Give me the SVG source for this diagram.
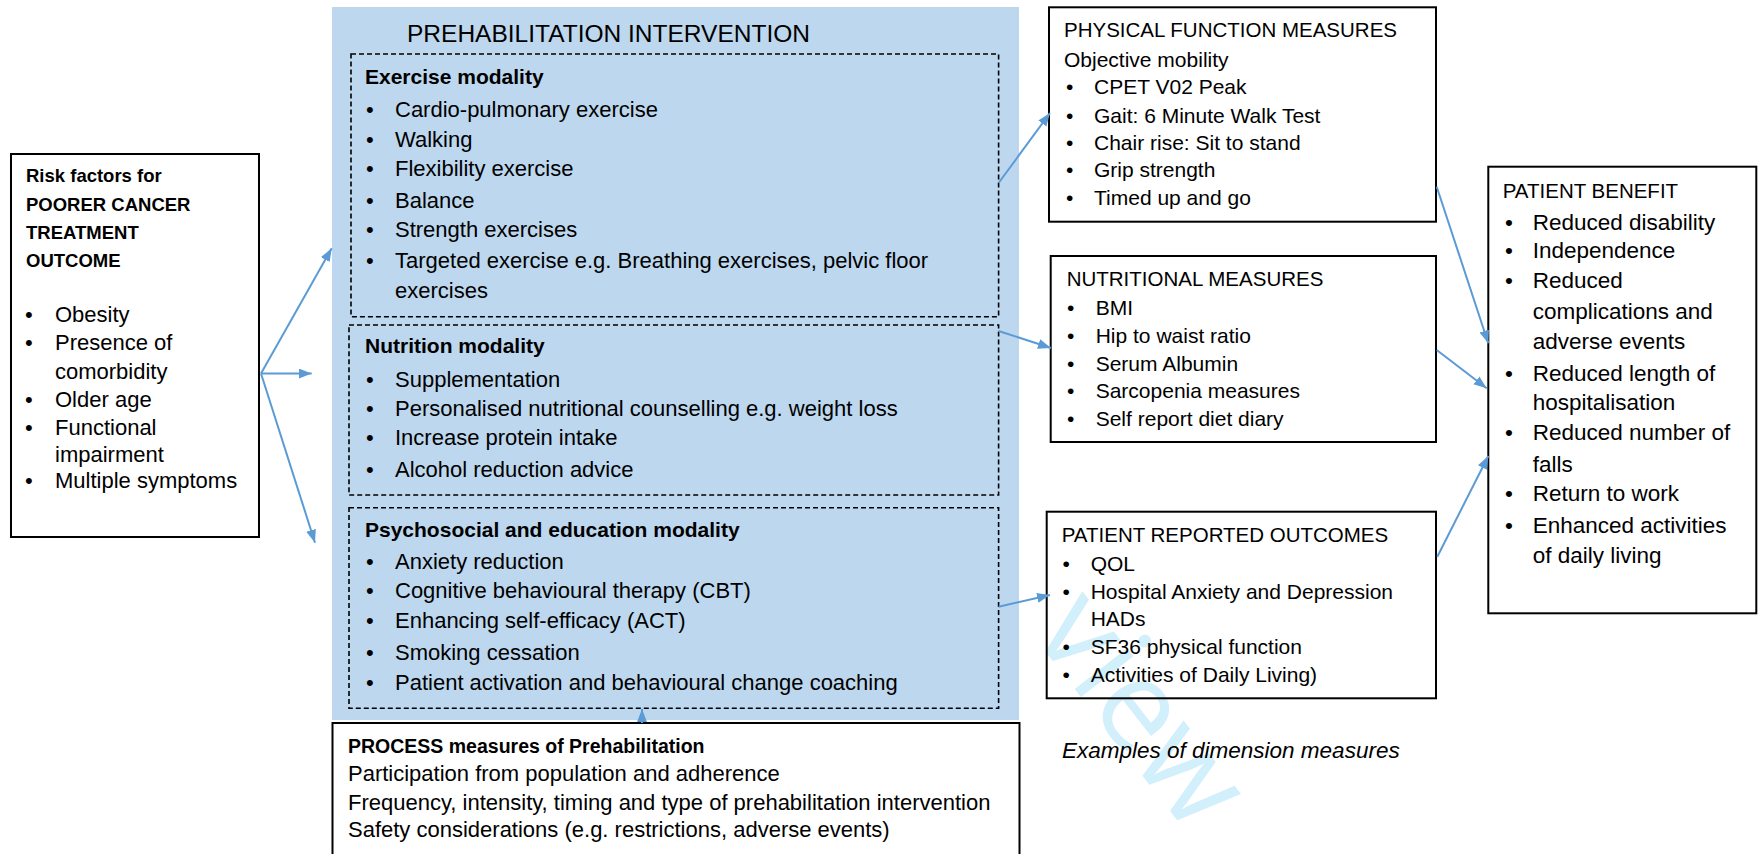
<svg xmlns="http://www.w3.org/2000/svg" width="1758" height="854" viewBox="0 0 1758 854">
<style>
text{font-family:"Liberation Sans",Arial,sans-serif;fill:#000}
.box{fill:none;stroke:#000;stroke-width:2}
.dash{fill:none;stroke:#000;stroke-width:1.6;stroke-dasharray:5 3}
.t22{font-size:22px}
.t21{font-size:21px}
.t23{font-size:22.5px}
.h{font-size:20.5px}
.b{font-weight:bold}
.conn line{stroke:#5B9BD5;stroke-width:2;marker-end:url(#ah)}
.wm{font-family:"Open Sans","Liberation Sans",sans-serif;font-weight:400;font-size:124px;fill:#d2effc}
</style>
<defs>
<marker id="ah" markerUnits="userSpaceOnUse" markerWidth="14" markerHeight="12" refX="13" refY="5" orient="auto">
<path d="M0,0 L13,5 L0,10 z" fill="#5B9BD5"/>
</marker>
</defs>
<rect width="1758" height="854" fill="#fff"/>

<g id="watermark">
<text class="wm" x="1030" y="632" transform="rotate(52 1030 632)">view</text>
</g>

<g id="risk">
<rect class="box" x="11" y="154" width="248" height="383"/>
<text class="b" font-size="18.5" x="26" y="182">Risk factors for</text>
<text class="b" font-size="18.5" x="26" y="210.5">POORER  CANCER</text>
<text class="b" font-size="18.5" x="26" y="239">TREATMENT</text>
<text class="b" font-size="18.5" x="26" y="267">OUTCOME</text>
<g class="t22">
<text x="25" y="321.7">•</text><text x="55" y="321.7">Obesity</text>
<text x="25" y="350">•</text><text x="55" y="350">Presence of</text>
<text x="55" y="379">comorbidity</text>
<text x="25" y="406.7">•</text><text x="55" y="406.7">Older age</text>
<text x="25" y="435">•</text><text x="55" y="435">Functional</text>
<text x="55" y="461.7">impairment</text>
<text x="25" y="488">•</text><text x="55" y="488">Multiple symptoms</text>
</g>
</g>

<g id="intervention">
<rect x="332" y="7" width="687" height="713" fill="#BDD7EE"/>
<text x="407" y="41.7" font-size="24.5">PREHABILITATION INTERVENTION</text>
</g>

<g id="exercise">
<rect class="dash" x="351" y="54" width="647.6" height="262.7"/>
<text class="b" font-size="21" x="365" y="84">Exercise modality</text>
<g class="t22">
<text x="366" y="116.7">•</text><text x="395" y="116.7">Cardio-pulmonary exercise</text>
<text x="366" y="146.7">•</text><text x="395" y="146.7">Walking</text>
<text x="366" y="175.7">•</text><text x="395" y="175.7">Flexibility exercise</text>
<text x="366" y="207.7">•</text><text x="395" y="207.7">Balance</text>
<text x="366" y="236.7">•</text><text x="395" y="236.7">Strength exercises</text>
<text x="366" y="268.3">•</text><text x="395" y="268.3">Targeted exercise e.g. Breathing exercises, pelvic floor</text>
<text x="395" y="298.3">exercises</text>
</g>
</g>

<g id="nutrition">
<rect class="dash" x="349" y="325" width="649.6" height="170"/>
<text class="b" font-size="21" x="365" y="353.3">Nutrition  modality</text>
<g class="t22">
<text x="366" y="386.7">•</text><text x="395" y="386.7">Supplementation</text>
<text x="366" y="416">•</text><text x="395" y="416">Personalised nutritional counselling e.g. weight loss</text>
<text x="366" y="445">•</text><text x="395" y="445">Increase protein intake</text>
<text x="366" y="476.7">•</text><text x="395" y="476.7">Alcohol reduction advice</text>
</g>
</g>

<g id="psychosocial">
<rect class="dash" x="349" y="507.7" width="649.6" height="200.6"/>
<text class="b" font-size="21" x="365" y="537.3">Psychosocial and education modality</text>
<g class="t22">
<text x="366" y="569.3">•</text><text x="395" y="569.3">Anxiety reduction</text>
<text x="366" y="598.3">•</text><text x="395" y="598.3">Cognitive behavioural therapy (CBT)</text>
<text x="366" y="628.3">•</text><text x="395" y="628.3">Enhancing self-efficacy (ACT)</text>
<text x="366" y="660">•</text><text x="395" y="660">Smoking cessation</text>
<text x="366" y="690">•</text><text x="395" y="690">Patient activation and behavioural change coaching</text>
</g>
</g>

<g id="process">
<rect class="box" x="332.5" y="723" width="687" height="140"/>
<text class="b" font-size="19.5" x="348" y="752.7">PROCESS measures of Prehabilitation</text>
<g class="t22">
<text x="348" y="781">Participation from population and adherence</text>
<text x="348" y="810">Frequency, intensity, timing and type of prehabilitation intervention</text>
<text x="348" y="836.7">Safety considerations (e.g. restrictions, adverse events)</text>
</g>
</g>

<g id="physical">
<rect class="box" x="1049" y="7.3" width="387" height="214.4"/>
<text class="h" x="1064" y="37.3">PHYSICAL FUNCTION MEASURES</text>
<g class="t21">
<text x="1064" y="66.7">Objective mobility</text>
<text x="1066" y="94.3">•</text><text x="1094" y="94.3">CPET V02 Peak</text>
<text x="1066" y="122.7">•</text><text x="1094" y="122.7">Gait: 6 Minute Walk Test</text>
<text x="1066" y="150">•</text><text x="1094" y="150">Chair rise: Sit to stand</text>
<text x="1066" y="176.7">•</text><text x="1094" y="176.7">Grip strength</text>
<text x="1066" y="205">•</text><text x="1094" y="205">Timed up and go</text>
</g>
</g>

<g id="nutritional">
<rect class="box" x="1050.7" y="256" width="385.3" height="186"/>
<text class="h" x="1066.7" y="286">NUTRITIONAL MEASURES</text>
<g class="t21">
<text x="1067" y="315">•</text><text x="1095.7" y="315">BMI</text>
<text x="1067" y="342.7">•</text><text x="1095.7" y="342.7">Hip to waist ratio</text>
<text x="1067" y="370.7">•</text><text x="1095.7" y="370.7">Serum Albumin</text>
<text x="1067" y="397.7">•</text><text x="1095.7" y="397.7">Sarcopenia measures</text>
<text x="1067" y="425.7">•</text><text x="1095.7" y="425.7">Self report diet diary</text>
</g>
</g>

<g id="pro">
<rect class="box" x="1046.7" y="511.7" width="389.3" height="186.6"/>
<text class="h" x="1061.7" y="541.7">PATIENT REPORTED OUTCOMES</text>
<g class="t21">
<text x="1062.5" y="570.7">•</text><text x="1090.7" y="570.7">QOL</text>
<text x="1062.5" y="599.3">•</text><text x="1090.7" y="599.3">Hospital Anxiety and Depression</text>
<text x="1090.7" y="625.7">HADs</text>
<text x="1062.5" y="654">•</text><text x="1090.7" y="654">SF36 physical function</text>
<text x="1062.5" y="682.3">•</text><text x="1090.7" y="682.3">Activities of Daily Living)</text>
</g>
</g>

<g id="benefit">
<rect class="box" x="1488.3" y="166.7" width="268" height="446.6"/>
<text class="h" x="1502.7" y="197.7">PATIENT BENEFIT</text>
<g class="t23">
<text x="1505" y="230">•</text><text x="1532.7" y="230">Reduced disability</text>
<text x="1505" y="258.3">•</text><text x="1532.7" y="258.3">Independence</text>
<text x="1505" y="288.3">•</text><text x="1532.7" y="288.3">Reduced</text>
<text x="1532.7" y="319.3">complications and</text>
<text x="1532.7" y="349.3">adverse events</text>
<text x="1505" y="380.7">•</text><text x="1532.7" y="380.7">Reduced length of</text>
<text x="1532.7" y="410">hospitalisation</text>
<text x="1505" y="440">•</text><text x="1532.7" y="440">Reduced number of</text>
<text x="1532.7" y="471.7">falls</text>
<text x="1505" y="500.7">•</text><text x="1532.7" y="500.7">Return to work</text>
<text x="1505" y="532.7">•</text><text x="1532.7" y="532.7">Enhanced activities</text>
<text x="1532.7" y="563.3">of daily living</text>
</g>
</g>

<g id="caption">
<text x="1062" y="758" font-size="22.5" font-style="italic">Examples of dimension measures</text>
</g>

<g id="connectors" class="conn">
<line x1="261" y1="373.5" x2="331.7" y2="248.3"/>
<line x1="261" y1="373.5" x2="311.7" y2="373.5"/>
<line x1="261" y1="373.5" x2="315" y2="542.7"/>
<line x1="998.6" y1="183" x2="1050" y2="113"/>
<line x1="998.6" y1="331" x2="1051" y2="348"/>
<line x1="998.6" y1="606.7" x2="1050" y2="595"/>
<line x1="642" y1="723" x2="642" y2="709"/>
<line x1="1436.7" y1="186.7" x2="1488.3" y2="343.3"/>
<line x1="1436.7" y1="350" x2="1486.7" y2="388.3"/>
<line x1="1437.3" y1="556.7" x2="1488.3" y2="456"/>
</g>
</svg>
